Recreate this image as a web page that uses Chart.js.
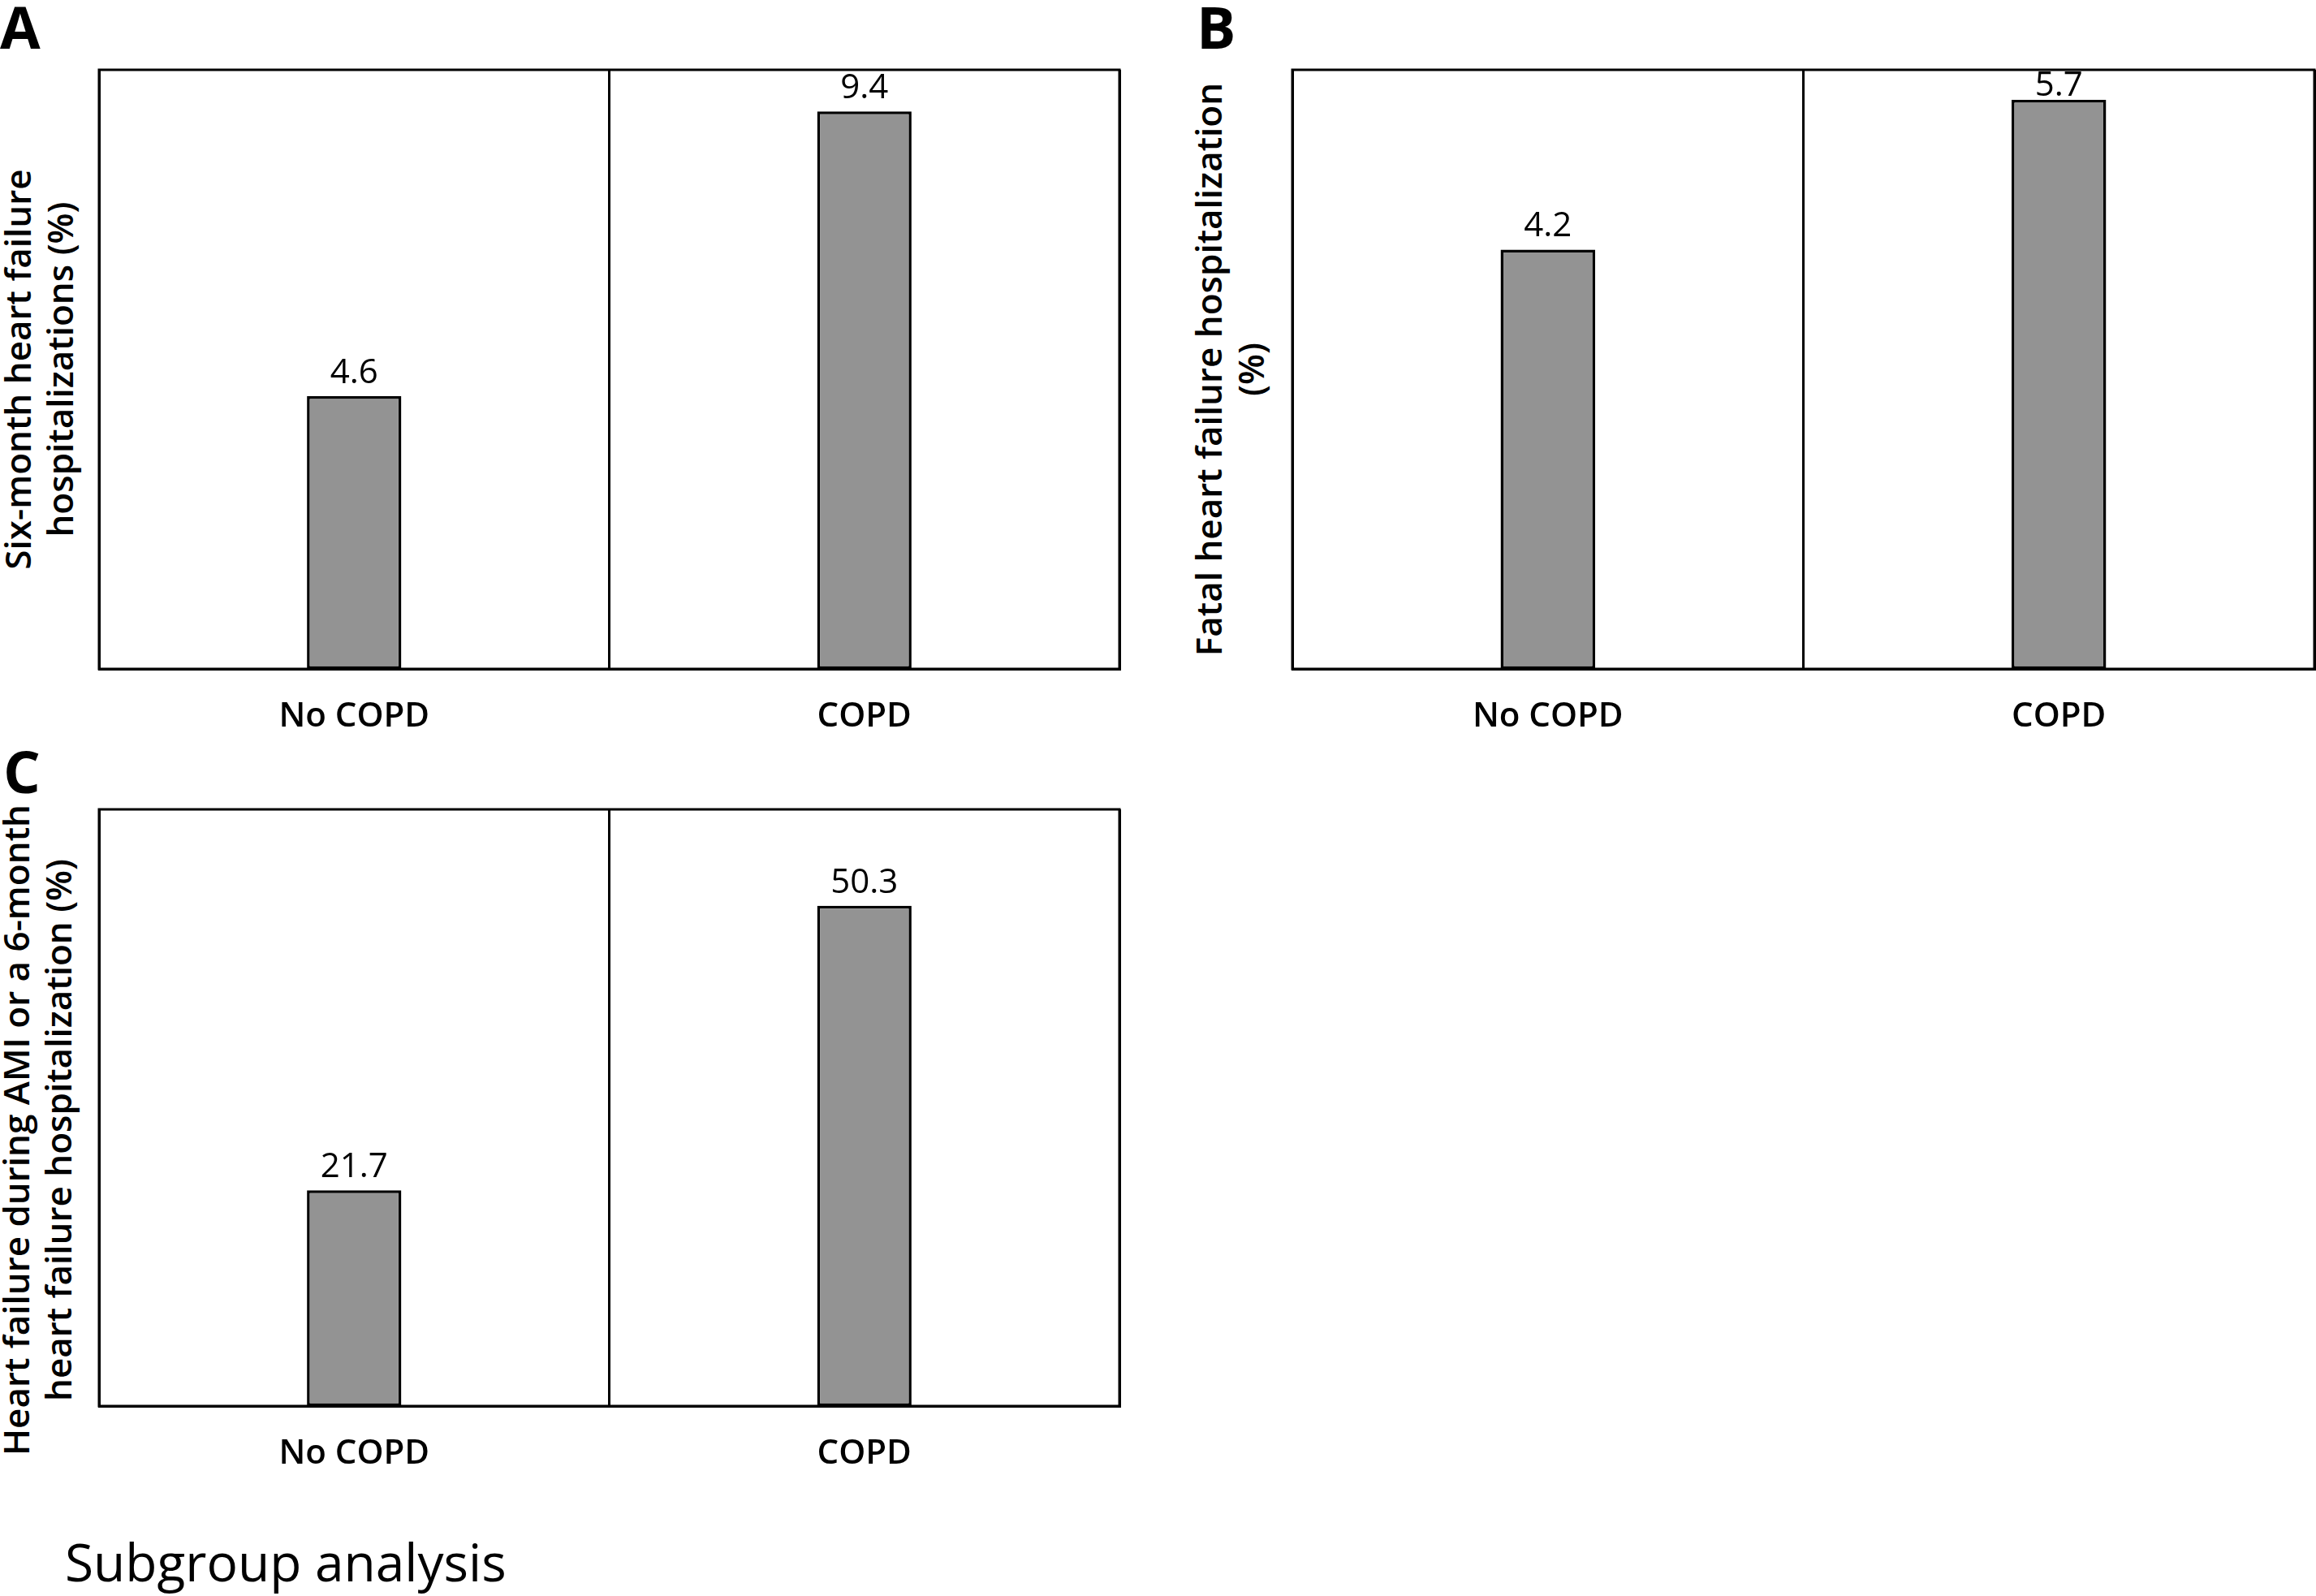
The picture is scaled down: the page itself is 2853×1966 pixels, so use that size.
<!DOCTYPE html>
<html>
<head>
<meta charset="utf-8">
<script src="https://cdn.jsdelivr.net/npm/chart.js@4.4.1/dist/chart.umd.min.js"></script>
<style>
  html, body { margin: 0; padding: 0; background: #fff; }
  body { width: 2853px; height: 1966px; position: relative; overflow: hidden; font-family: "Open Sans", sans-serif; color: #000; }
  .panel { position: absolute; }
  .letter { position: absolute; font-weight: 700; font-size: 72px; line-height: 1; }
  .ytitle { position: absolute; transform: translate(-50%, -50%) rotate(-90deg); white-space: nowrap; text-align: center; font-weight: 600; font-size: 44px; line-height: 52px; }
  .note { position: absolute; left: 80px; top: 1892px; font-size: 64px; line-height: 1; }
</style>
</head>
<body>
<div class="letter" style="left:0px; top:-4px;">A</div>
<div class="letter" style="left:1474px; top:-4px;">B</div>
<div class="letter" style="left:4px; top:913px;">C</div>

<div class="ytitle" style="left:47px; top:455px;">Six-month heart failure<br>hospitalizations (%)</div>
<div class="ytitle" style="left:1514px; top:455px;">Fatal heart failure hospitalization<br>(%)</div>
<div class="ytitle" style="left:45px; top:1392px;">Heart failure during AMI or a 6-month<br>heart failure hospitalization (%)</div>

<div class="panel" style="left:0px; top:0px; width:1400px; height:960px;"><canvas id="chartA"></canvas></div>
<div class="panel" style="left:1450px; top:0px; width:1403px; height:960px;"><canvas id="chartB"></canvas></div>
<div class="panel" style="left:0px; top:911px; width:1400px; height:957px;"><canvas id="chartC"></canvas></div>

<div class="note">Subgroup analysis</div>

<script>
// categories on the x axis
const categories = ["No COPD", "COPD"];

// percentages per panel
const valuesA = [4.6, 9.4];   // six-month HF hospitalizations
const valuesB = [4.2, 5.7];   // fatal HF hospitalization
const valuesC = [21.7, 50.3]; // HF during AMI or 6-month HF hospitalization

// top of each y axis (no ticks are shown)
const maxA = 10.1;
const maxB = 6;
const maxC = 60;

// frame round the plot area
const boxPlugin = {
    id: "box",
    afterDraw(chart) {
        const { ctx, chartArea: a } = chart;
        ctx.save();
        ctx.strokeStyle = "#000";
        ctx.lineWidth = 3;
        ctx.strokeRect(a.left, a.top, a.right - a.left, a.bottom - a.top);
        ctx.restore();
    },
};

// numbers above the bars
const valueLabels = {
    id: "valueLabels",
    afterDatasetsDraw(chart) {
        const { ctx, chartArea } = chart;
        const meta = chart.getDatasetMeta(0);
        const vals = chart.data.datasets[0].data;
        ctx.save();
        ctx.font = '400 42px "Open Sans"';
        ctx.fillStyle = "#000";
        ctx.textAlign = "center";
        ctx.textBaseline = "middle";
        meta.data.forEach((bar, i) => {
            const y = Math.max(bar.y - 28, chartArea.top + 20);
            ctx.fillText(vals[i].toFixed(1), bar.x, y);
        });
        ctx.restore();
    },
};

function makeChart(id, values, yMax, pad) {
    const config = {
        type: "bar",
        data: {
            labels: categories,
            datasets: [{
                data: values,
                backgroundColor: "#939393",
                borderColor: "#000",
                borderWidth: 3.5,
                borderSkipped: false,
                barPercentage: 0.185,
                categoryPercentage: 1,
            }],
        },
        options: {
            responsive: true,
            maintainAspectRatio: false,
            animation: false,
            layout: { padding: pad },
            plugins: {
                legend: { display: false },
                tooltip: { enabled: false },
            },
            scales: {
                x: {
                    grid: { offset: true, color: "#000", lineWidth: 3, drawTicks: false },
                    border: { display: true, color: "#000", width: 3 },
                    ticks: {
                        color: "#000",
                        font: { family: "Open Sans", size: 42, weight: "600" },
                        padding: 34,
                    },
                    afterFit(scale) { scale.height = 136; },
                },
                y: { display: false, min: 0, max: yMax },
            },
        },
        plugins: [boxPlugin, valueLabels],
    };
    return new Chart(document.getElementById(id), config);
}

makeChart("chartA", valuesA, maxA, { left: 122, top: 86, right: 21, bottom: 0 });
makeChart("chartB", valuesB, maxB, { left: 142, top: 86, right: 2, bottom: 0 });
makeChart("chartC", valuesC, maxC, { left: 122, top: 86, right: 21, bottom: 0 });
</script>
</body>
</html>
